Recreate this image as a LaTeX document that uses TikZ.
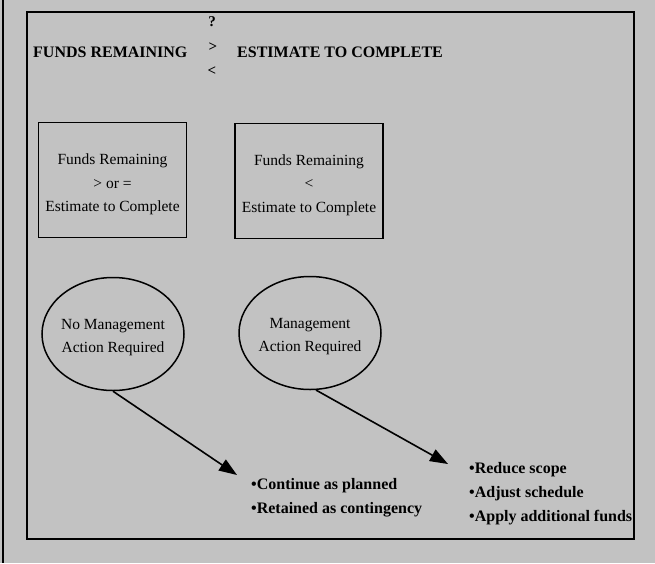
\documentclass[tikz,border=0pt]{standalone}
\usepackage{fontspec}
\setmainfont{Liberation Serif}
\usetikzlibrary{shapes.geometric,arrows.meta}
\definecolor{bggray}{gray}{0.76}
\tikzset{
  frame/.style={line width=1.6pt},
  title/.style={font=\fontsize{16}{19}\selectfont\bfseries, inner sep=0pt},
  sym/.style={font=\fontsize{15}{17}\selectfont\bfseries, inner sep=0pt},
  boxnode/.style={draw, line width=1.5pt, minimum width=148pt, minimum height=115pt, inner sep=0pt},
  boxtext/.style={align=center, inner sep=0pt, font=\fontsize{15.5}{23.5}\selectfont},
  ellnode/.style={draw, ellipse, line width=1.5pt, minimum width=142pt, minimum height=113pt, inner sep=0pt},
  elltext/.style={align=center, inner sep=0pt, font=\fontsize{15.5}{23}\selectfont},
  bullets/.style={font=\fontsize{16}{24}\selectfont\bfseries, align=left, inner sep=0pt, anchor=west},
  arr/.style={line width=1.6pt, -{Triangle[length=18pt,width=13pt]}}
}
\begin{document}
\begin{tikzpicture}[x=1pt,y=-1pt]
\useasboundingbox (0,0) rectangle (655,563);
\fill[bggray] (0,0) rectangle (655,563);
\draw[frame] (3,0) -- (3,563);
\draw[frame] (27,12) rectangle (634,539);
\node[title, anchor=west] (fr) at (33,52) {FUNDS REMAINING};
\node[title, anchor=west] (etc) at (237,52) {ESTIMATE TO COMPLETE};
\node[sym] (q) at (212,22) {?};
\node[sym] (gt) at (213,47) {>};
\node[sym] (lt) at (212,71) {<};
\node[boxnode] (b1) at (112.5,180) {};
\node[boxtext] (b1t) at (112.5,184.5) {Funds Remaining\\> or =\\Estimate to Complete};
\node[boxnode] (b2) at (309,181) {};
\node[boxtext] (b2t) at (309,185) {Funds Remaining\\<\\Estimate to Complete};
\node[ellnode] (e1) at (113,334) {};
\node[elltext] (e1t) at (113,337.5) {No Management\\Action Required};
\node[ellnode] (e2) at (310,333) {};
\node[elltext] (e2t) at (310,337) {Management\\Action Required};
\coordinate (t1) at (237,475);
\coordinate (t2) at (448,464);
\draw[arr] (e1.south) -- (t1);
\draw[arr] (e2.-84) -- (t2);
\node[bullets] (l1) at (251,497.5) {\textbullet Continue as planned\\\textbullet Retained as contingency};
\node[bullets] (l2) at (469,494) {\textbullet Reduce scope\\\textbullet Adjust schedule\\\textbullet Apply additional funds};
\end{tikzpicture}
\end{document}
